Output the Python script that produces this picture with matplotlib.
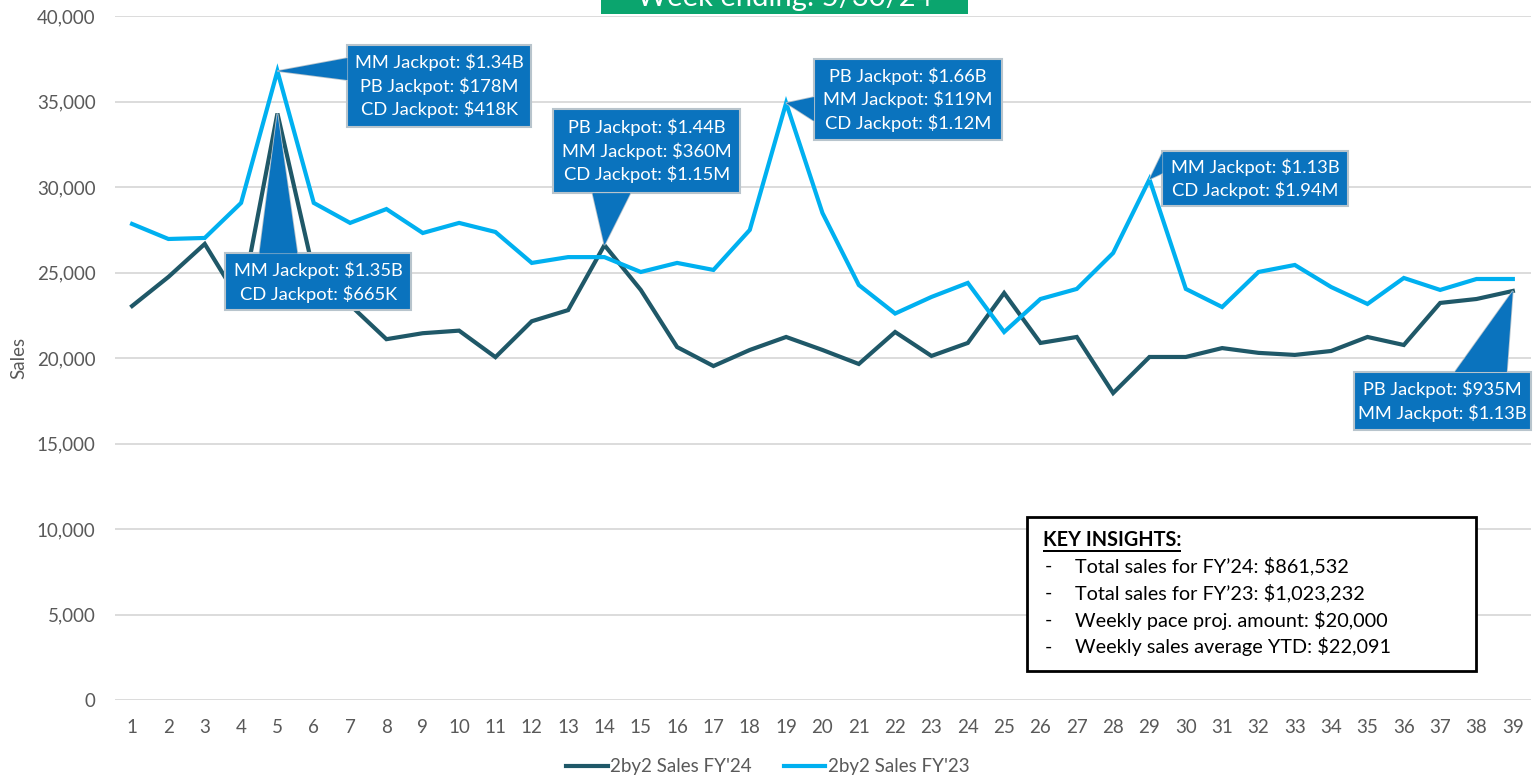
import matplotlib
matplotlib.use("Agg")
import matplotlib.pyplot as plt
from matplotlib.patches import Rectangle, Polygon
from matplotlib.transforms import IdentityTransform

# ---------------- data ----------------
weeks = list(range(1, 40))
sales_fy24 = [23040, 24740, 26670, 23200, 34300, 25000, 23100, 21100, 21450, 21600,
              20050, 22150, 22800, 26600, 23980, 20640, 19530, 20470, 21230, 20470,
              19650, 21520, 20120, 20880, 23800, 20880, 21230, 17950, 20060, 20060,
              20580, 20300, 20180, 20410, 21230, 20760, 23220, 23450, 23920]
sales_fy23 = [27840, 26960, 27020, 29070, 36780, 29070, 27900, 28710, 27310, 27900,
              27370, 25560, 25900, 25900, 25030, 25560, 25150, 27490, 34910, 28480,
              24270, 22600, 23570, 24390, 21520, 23450, 24040, 26140, 30450, 24040,
              22980, 25030, 25440, 24150, 23160, 24680, 23980, 24620, 24620]
series_names = ["2by2 Sales FY'24", "2by2 Sales FY'23"]
y_ticks = [0, 5000, 10000, 15000, 20000, 25000, 30000, 35000, 40000]
title_text = "Week ending: 5/30/24"

callout_texts = [
    "MM Jackpot: $1.34B\nPB Jackpot: $178M\nCD Jackpot: $418K",
    "MM Jackpot: $1.35B\nCD Jackpot: $665K",
    "PB Jackpot: $1.44B\nMM Jackpot: $360M\nCD Jackpot: $1.15M",
    "PB Jackpot: $1.66B\nMM Jackpot: $119M\nCD Jackpot: $1.12M",
    "MM Jackpot: $1.13B\nCD Jackpot: $1.94M",
    "PB Jackpot: $935M\nMM Jackpot: $1.13B",
]
# (series index, week) each callout points to
callout_targets = [(1, 5), (0, 5), (0, 14), (1, 19), (1, 29), (0, 39)]

insights_title = "KEY INSIGHTS:"
insights = [
    "Total sales for FY\u201924: $861,532",
    "Total sales for FY\u201923: $1,023,232",
    "Weekly pace proj. amount: $20,000",
    "Weekly sales average YTD: $22,091",
]

# ---------------- styling ----------------
W, H = 1536, 775
DARK = "#1F5868"
LIGHT = "#00B0F0"
CALLOUT = "#0A73BE"
CALLOUT_EDGE = "#B8C4CC"
GRID = "#D9D9D9"
TXT = "#595959"
FONT = ["Lato", "DejaVu Sans"]
plt.rcParams["font.family"] = FONT

fig = plt.figure(figsize=(W / 100, H / 100), dpi=100)
ax = fig.add_axes([115 / W, 1 - 700 / H, (1531 - 115) / W, (700 - 16) / H])

ax.plot(weeks, sales_fy24, color=DARK, lw=3.0, label=series_names[0], zorder=3,
        solid_joinstyle="miter")
ax.plot(weeks, sales_fy23, color=LIGHT, lw=3.0, label=series_names[1], zorder=3,
        solid_joinstyle="miter")

ax.set_xlim(0.53, 39.5)
ax.set_ylim(0, 40000)
ax.set_xticks(weeks)
ax.set_xticklabels([str(w) for w in weeks])
ax.set_yticks(y_ticks)
ax.set_yticklabels([f"{v:,}" for v in y_ticks])
ax.tick_params(axis="both", length=0, labelsize=13.5, labelcolor=TXT)
ax.tick_params(axis="x", pad=14)
ax.tick_params(axis="y", pad=14)
ax.grid(axis="y", color=GRID, lw=1.3)
ax.set_axisbelow(True)
for s in ax.spines.values():
    s.set_visible(False)
ax.set_ylabel("Sales", fontsize=13.5, color=TXT)
ax.yaxis.set_label_coords((27 - 115) / (1531 - 115), 0.5)

fig.legend(loc="lower center", bbox_to_anchor=(0.5, -0.022), ncol=2, frameon=False,
           fontsize=13.5, labelcolor=TXT, handlelength=2.2, handletextpad=0.15,
           columnspacing=1.7)

# ---------------- callouts (layout offsets in pixels, y measured downwards) ----------------
# box: (dx0, dx1, dy0, dy1) relative to the target point; wedge: two base points
callout_layout = [
    dict(box=(70, 254, -26, 56), wedge=[(70, -13), (70, 9)]),
    dict(box=(-52, 134, 140, 197), wedge=[(-18, 140), (20, 140)]),
    dict(box=(-51, 136, -136, -52), wedge=[(-12, -52), (26, -52)]),
    dict(box=(28, 216, -44, 37), wedge=[(28, -6), (28, 18)]),
    dict(box=(13, 199, -28, 27), wedge=[(13, -27), (13, -6)]),
    dict(box=(-159, 18, 81, 139), wedge=[(-58, 81), (-6, 81)]),
]

fig.canvas.draw()
ident = IdentityTransform()
series = [sales_fy24, sales_fy23]
for text, (si, wk), lay in zip(callout_texts, callout_targets, callout_layout):
    px, py = ax.transData.transform((wk, series[si][wk - 1]))
    dx0, dx1, dy0, dy1 = lay["box"]
    rx0, rx1 = px + dx0, px + dx1
    ry_top, ry_bot = py - dy0, py - dy1
    rect = Rectangle((rx0, ry_bot), rx1 - rx0, ry_top - ry_bot, transform=ident,
                     facecolor=CALLOUT, edgecolor=CALLOUT_EDGE, lw=1.5, zorder=5)
    fig.add_artist(rect)
    (ax1, ay1), (ax2, ay2) = lay["wedge"]
    tri = [(px, py), (px + ax1, py - ay1), (px + ax2, py - ay2)]
    fig.add_artist(Polygon(tri, closed=True, transform=ident, facecolor=CALLOUT,
                           edgecolor=CALLOUT_EDGE, lw=1.2, zorder=4))
    fig.add_artist(Polygon(tri, closed=True, transform=ident, facecolor=CALLOUT,
                           edgecolor="none", zorder=6))
    fig.text((rx0 + rx1) / 2 / W, (ry_top + ry_bot) / 2 / H, text, ha="center",
             va="center", color="white", fontsize=13.2, linespacing=1.42, zorder=7)

# ---------------- key insights box ----------------
renderer = fig.canvas.get_renderer()
fig.add_artist(Rectangle((1027, H - 671), 1476 - 1027, 671 - 517, transform=ident,
                         facecolor="white", edgecolor="black", lw=2, zorder=5))
t = fig.text(1043 / W, (H - 540) / H, insights_title, fontsize=14.3, fontweight="bold",
             color="black", va="center", ha="left", zorder=6)
r = t.get_window_extent(renderer=renderer)
fig.add_artist(Rectangle((r.x0, H - 552), r.width, 1.6, transform=ident,
                         facecolor="black", edgecolor="none", zorder=6))
for i, line in enumerate(insights):
    yy = (H - (566 + i * 27)) / H
    fig.text(1045 / W, yy, "-", fontsize=14.3, color="black", va="center", ha="left", zorder=6)
    fig.text(1075 / W, yy, line, fontsize=14.3, color="black", va="center", ha="left", zorder=6)

# ---------------- title banner (cut off at top) ----------------
fig.add_artist(Rectangle((601, H - 14), 367, 60, transform=ident,
                         facecolor="#0BA56E", edgecolor="none", zorder=5))
fig.text(784.5 / W, (H - 6) / H, title_text, fontsize=21, color="white", ha="center",
         va="baseline", zorder=6)

fig.savefig("out.png", dpi=100)
